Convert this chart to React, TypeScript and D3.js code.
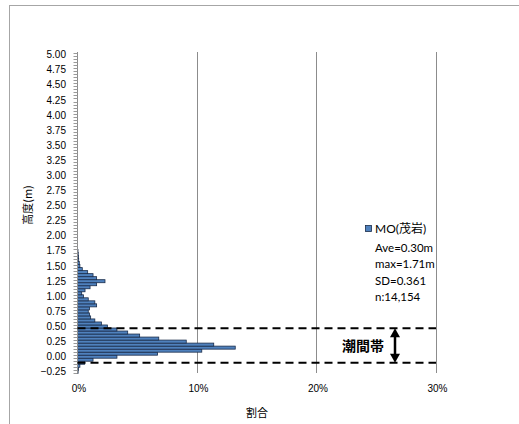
import React from "react";
import * as d3 from "d3";

const binHeights = [
  -0.25, -0.2, -0.15, -0.1, -0.05, 0.0, 0.05, 0.1, 0.15, 0.2, 0.25, 0.3, 0.35, 0.4, 0.45,
  0.5, 0.55, 0.6, 0.65, 0.7, 0.75, 0.8, 0.85, 0.9, 0.95, 1.0, 1.05, 1.1, 1.15, 1.2, 1.25,
  1.3, 1.35, 1.4, 1.45, 1.5, 1.55, 1.6, 1.65, 1.7, 1.75,
];
const shares = [
  0.05, 0.08, 0.2, 0.6, 1.3, 3.3, 6.7, 10.4, 13.2, 11.4, 9.1, 6.8, 5.2, 4.2, 3.3,
  2.5, 2.0, 1.45, 1.1, 1.0, 0.9, 1.0, 1.6, 1.45, 0.9, 0.5, 0.35, 0.63, 1.05, 1.6, 2.3,
  1.6, 1.3, 0.85, 0.4, 0.2, 0.15, 0.1, 0.08, 0.06, 0.04,
];
const yTickLabels = [-0.25, 0, 0.25, 0.5, 0.75, 1, 1.25, 1.5, 1.75, 2, 2.25, 2.5, 2.75, 3, 3.25, 3.5, 3.75, 4, 4.25, 4.5, 4.75, 5];
const xTicks = [0, 10, 20, 30];
const zoneLines = [0.47, -0.1];
const legendLines = ["Ave=0.30m", "max=1.71m", "SD=0.361", "n:14,154"];
const seriesName = "MO(茂岩)";
const zoneLabel = "潮間帯";
const xTitle = "割合";
const yTitle = "高度(m)";

export default function App() {
  const W = 519, H = 424;
  const x = d3.scaleLinear().domain([0, 30]).range([77.5, 436]);
  const y = d3.scaleLinear().domain([-0.275, 5.025]).range([373.3, 53.2]);
  const binW = 0.05;
  const plotTop = 52, plotBottom = 373;
  const minorTicks = d3.range(0, 107).map((k) => -0.275 + k * binW);
  const tickFont = "'Liberation Sans', Arial, sans-serif";
  const arrowX = 395;
  const yTopZone = y(zoneLines[0]);
  const yBotZone = y(zoneLines[1]);

  return (
    <svg width={W} height={H} style={{ position: "absolute", left: 0, top: 0, background: "#fff" }}>
      <rect x={9.5} y={5.5} width={530} height={440} fill="#fff" stroke="#a6a6a6" />
      {xTicks.slice(1).map((t) => (
        <line key={t} x1={Math.round(x(t)) + 0.5} x2={Math.round(x(t)) + 0.5} y1={plotTop} y2={plotBottom} stroke="#8c8c8c" strokeWidth={1} />
      ))}
      {binHeights.map((h, i) => (
        <rect
          key={i}
          x={x(0)}
          y={y(h + binW / 2)}
          width={Math.max(0, x(shares[i]) - x(0))}
          height={y(h - binW / 2) - y(h + binW / 2)}
          fill="#4f81bd"
          stroke="#1a2c4a"
          strokeWidth={0.8}
        />
      ))}
      <line x1={x(0)} x2={x(0)} y1={plotTop} y2={plotBottom} stroke="#8c8c8c" />
      {minorTicks.map((v, i) => (
        <line key={i} x1={x(0) - 4} x2={x(0)} y1={Math.round(y(v)) + 0.5} y2={Math.round(y(v)) + 0.5} stroke="#9a9a9a" strokeWidth={1} />
      ))}
      {yTickLabels.map((v) => (
        <text key={v} x={66} y={y(v)} dy="0.35em" textAnchor="end" fontSize={10} fontFamily={tickFont} fill="#000">
          {v < 0 ? "\u2212" + Math.abs(v).toFixed(2) : v.toFixed(2)}
        </text>
      ))}
      {xTicks.map((t) => (
        <text key={t} x={x(t) + 1.5} y={392} textAnchor="middle" fontSize={10} fontFamily={tickFont} fill="#000">
          {t + "%"}
        </text>
      ))}
      <text x={257} y={417} textAnchor="middle" fontSize={11} fontFamily="'Noto Sans CJK JP', sans-serif" fill="#000">
        {xTitle}
      </text>
      <text transform={`translate(32,205) rotate(-90)`} textAnchor="middle" fontSize={11} fontFamily="'Noto Sans CJK JP', sans-serif" fill="#000">
        {yTitle}
      </text>
      {zoneLines.map((z) => (
        <line key={z} x1={x(0)} x2={x(30)} y1={y(z)} y2={y(z)} stroke="#000" strokeWidth={2} strokeDasharray="8,5" />
      ))}
      <line x1={arrowX} x2={arrowX} y1={yTopZone + 7} y2={yBotZone - 7} stroke="#000" strokeWidth={2.5} />
      <path d={`M${arrowX},${yTopZone} L${arrowX - 5},${yTopZone + 9} L${arrowX + 5},${yTopZone + 9} Z`} fill="#000" />
      <path d={`M${arrowX},${yBotZone} L${arrowX - 5},${yBotZone - 9} L${arrowX + 5},${yBotZone - 9} Z`} fill="#000" />
      <text x={363} y={(yTopZone + yBotZone) / 2} dy="0.38em" textAnchor="middle" fontSize={14} fontWeight="bold" fontFamily="'Noto Sans CJK JP', sans-serif" fill="#000">
        {zoneLabel}
      </text>
      <rect x={365.5} y={225.5} width={6} height={6} fill="#4f81bd" stroke="#1a2c4a" strokeWidth={0.8} />
      <text x={375} y={229} dy="0.35em" fontSize={12} fontFamily="Lato, 'Noto Sans CJK JP', sans-serif" fill="#000">
        {seriesName}
      </text>
      {legendLines.map((s, i) => (
        <text key={s} x={375} y={248 + i * 16.4} dy="0.35em" fontSize={11.5} fontFamily="Lato, sans-serif" fill="#000">
          {s}
        </text>
      ))}
    </svg>
  );
}
